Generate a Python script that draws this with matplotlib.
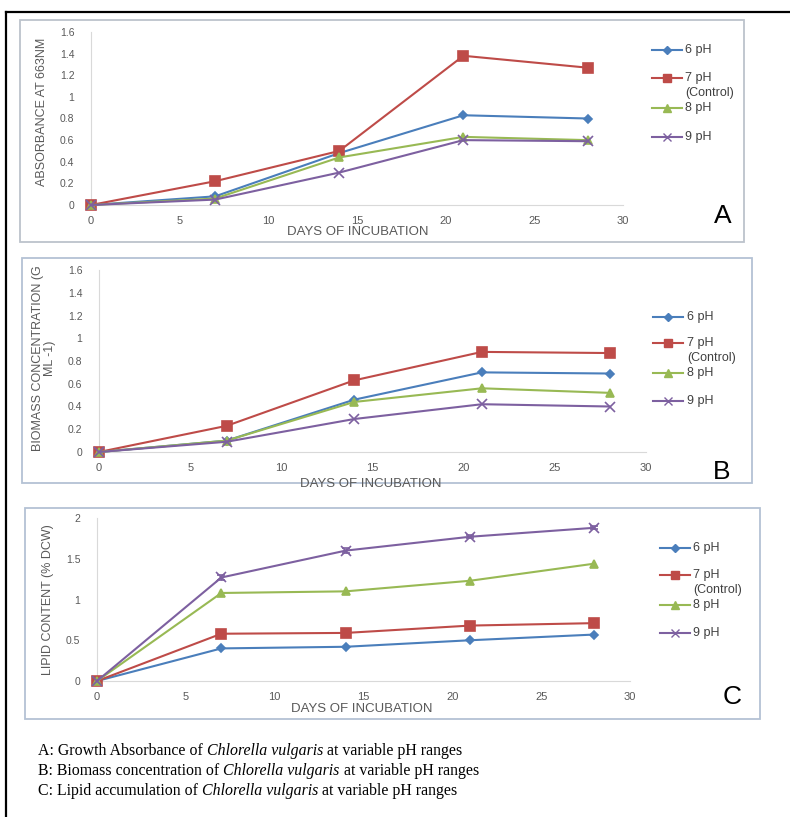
import matplotlib
matplotlib.use('Agg')
import matplotlib.pyplot as plt
from matplotlib.lines import Line2D
from matplotlib.patches import Rectangle

W, H = 790, 817

days = [0, 7, 14, 21, 28]
series_names = ['6 pH', '7 pH\n(Control)', '8 pH', '9 pH']

# A: absorbance at 663 nm
absorb_6 = [0, 0.08, 0.48, 0.83, 0.80]
absorb_7 = [0, 0.22, 0.50, 1.38, 1.27]
absorb_8 = [0, 0.06, 0.44, 0.63, 0.60]
absorb_9 = [0, 0.05, 0.30, 0.60, 0.59]

# B: biomass concentration
biomass_6 = [0, 0.10, 0.46, 0.70, 0.69]
biomass_7 = [0, 0.23, 0.63, 0.88, 0.87]
biomass_8 = [0, 0.10, 0.44, 0.56, 0.52]
biomass_9 = [0, 0.09, 0.29, 0.42, 0.40]

# C: lipid content
lipid_6 = [0, 0.40, 0.42, 0.50, 0.57]
lipid_7 = [0, 0.58, 0.59, 0.68, 0.71]
lipid_8 = [0, 1.08, 1.10, 1.23, 1.44]
lipid_9 = [0, 1.27, 1.60, 1.77, 1.88]
lipid_7_err = [0, 0, 0, 0.03, 0]
lipid_9_err = [0, 0.03, 0.03, 0.02, 0.02]

colors = ['#4a7ebb', '#be4b48', '#98b954', '#7d60a0']
markers = ['D', 's', '^', 'x']
msizes = [4.5, 7, 6, 6.5]

SANS = 'Liberation Sans'
GRAY = '#595959'

fig = plt.figure(figsize=(W / 100, H / 100), dpi=100)


def fx(x):
    return x / W


def fy(y):
    return 1 - y / H


def make_axes(x0, ytop, x1, ybot):
    return fig.add_axes([fx(x0), fy(ybot), fx(x1) - fx(x0), fy(ytop) - fy(ybot)])


def style_axes(ax, ymax, ystep, yticklabels):
    ax.set_xlim(0, 30)
    ax.set_ylim(0, ymax)
    ax.set_xticks(range(0, 31, 5))
    ax.set_xticklabels([str(v) for v in range(0, 31, 5)], fontsize=8, color=GRAY, family=SANS)
    ax.set_yticks([i * ystep for i in range(len(yticklabels))])
    ax.set_yticklabels(yticklabels, fontsize=7.5, color=GRAY, family=SANS)
    ax.tick_params(length=0)
    ax.tick_params(axis='x', pad=8)
    ax.tick_params(axis='y', pad=12)
    for s in ['top', 'right']:
        ax.spines[s].set_visible(False)
    for s in ['left', 'bottom']:
        ax.spines[s].set_color('#d9d9d9')
        ax.spines[s].set_linewidth(0.8)
    ax.patch.set_alpha(0)


def plot_series(ax, data, errs=None):
    for i, ys in enumerate(data):
        e = errs[i] if errs else None
        ax.errorbar(days, ys, yerr=e, color=colors[i], marker=markers[i], ms=msizes[i],
                    lw=1.5, mew=1.2, capsize=3, elinewidth=1, clip_on=False, zorder=3)


def legend(xl0, xl1, xt, ys):
    for i, y in enumerate(ys):
        fig.add_artist(Line2D([fx(xl0), fx(xl1)], [fy(y), fy(y)], color=colors[i], lw=1.5,
                              transform=fig.transFigure))
        fig.add_artist(Line2D([fx((xl0 + xl1) / 2)], [fy(y)], color=colors[i], marker=markers[i],
                              ms=msizes[i] * 0.85, mew=1, transform=fig.transFigure))
        for k, line in enumerate(series_names[i].split('\n')):
            fig.text(fx(xt), fy(y + k * 15), line, fontsize=9, color='#404040', family=SANS,
                     ha='left', va='center')


def box(x0, y0, x1, y1, color):
    fig.add_artist(Rectangle((fx(x0), fy(y1)), fx(x1) - fx(x0), fy(y0) - fy(y1),
                             transform=fig.transFigure, fill=False, ec=color, lw=1.3))


# outer frame (only left and top visible)
fig.add_artist(Line2D([fx(6), fx(6)], [fy(12), 0], color='black', lw=1.6, transform=fig.transFigure))
fig.add_artist(Line2D([fx(6), 1], [fy(12), fy(12)], color='black', lw=1.6, transform=fig.transFigure))

# panel A
box(20, 20, 744, 242, '#bcc3cc')
axA = make_axes(91, 32, 623, 205)
style_axes(axA, 1.6, 0.2, ['0', '0.2', '0.4', '0.6', '0.8', '1', '1.2', '1.4', '1.6'])
plot_series(axA, [absorb_6, absorb_7, absorb_8, absorb_9])
fig.text(fx(42), fy(112), 'ABSORBANCE AT 663NM', rotation=90, ha='center', va='center',
         fontsize=9, color=GRAY, family=SANS)
fig.text(fx(358), fy(232), 'DAYS OF INCUBATION', ha='center', va='center',
         fontsize=9.5, color=GRAY, family=SANS)
legend(652, 682, 685, [50, 78, 108, 137])
fig.text(fx(723), fy(216), 'A', fontsize=19, ha='center', va='center', family=SANS)

# panel B
box(22, 258, 752, 483, '#b4c2d4')
axB = make_axes(99, 270, 646, 452)
style_axes(axB, 1.6, 0.2, ['0', '0.2', '0.4', '0.6', '0.8', '1', '1.2', '1.4', '1.6'])
plot_series(axB, [biomass_6, biomass_7, biomass_8, biomass_9])
fig.text(fx(44), fy(358), 'BIOMASS CONCENTRATION (G\nML -1)', rotation=90, ha='center',
         va='center', fontsize=9, color=GRAY, family=SANS, linespacing=1.1)
fig.text(fx(371), fy(484), 'DAYS OF INCUBATION', ha='center', va='center',
         fontsize=9.5, color=GRAY, family=SANS)
legend(653, 683, 687, [317, 343, 373, 401])
fig.text(fx(722), fy(472), 'B', fontsize=19, ha='center', va='center', family=SANS)

# panel C
box(25, 508, 760, 719, '#b4c2d4')
axC = make_axes(97, 518, 630, 681)
style_axes(axC, 2, 0.5, ['0', '0.5', '1', '1.5', '2'])
plot_series(axC, [lipid_6, lipid_7, lipid_8, lipid_9],
            errs=[None, lipid_7_err, None, lipid_9_err])
fig.text(fx(48), fy(600), 'LIPID CONTENT (% DCW)', rotation=90, ha='center', va='center',
         fontsize=9, color=GRAY, family=SANS)
fig.text(fx(362), fy(709), 'DAYS OF INCUBATION', ha='center', va='center',
         fontsize=9.5, color=GRAY, family=SANS)
legend(660, 690, 693, [548, 575, 605, 633])
fig.text(fx(732), fy(697), 'C', fontsize=19, ha='center', va='center', family=SANS)

# caption with italic species name
caption = [
    [('A: Growth Absorbance of ', 'normal'), ('Chlorella vulgaris', 'italic'),
     (' at variable pH ranges', 'normal')],
    [('B: Biomass concentration of ', 'normal'), ('Chlorella vulgaris', 'italic'),
     (' at variable pH ranges', 'normal')],
    [('C: Lipid accumulation of ', 'normal'), ('Chlorella vulgaris', 'italic'),
     (' at variable pH ranges', 'normal')],
]
renderer = fig.canvas.get_renderer()
for row, parts in enumerate(caption):
    x = 38
    y = 751 + row * 20
    for txt, style in parts:
        t = fig.text(fx(x), fy(y), txt, fontsize=11.4, style=style, family='Liberation Serif',
                     ha='left', va='center', color='black')
        x += t.get_window_extent(renderer).width

fig.savefig('out.png', dpi=100)
